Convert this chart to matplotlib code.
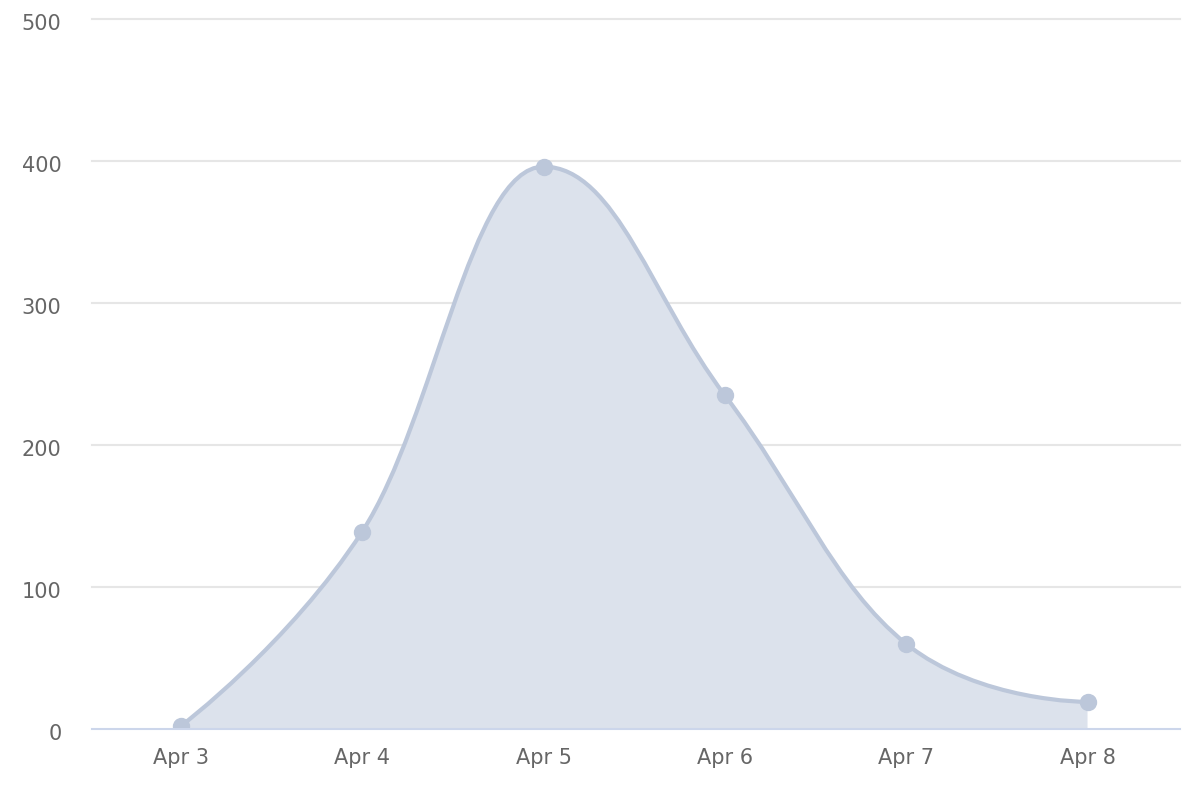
import matplotlib
matplotlib.use("Agg")
import matplotlib.pyplot as plt
import matplotlib.transforms as mtransforms
from matplotlib.path import Path
from matplotlib.patches import PathPatch
import numpy as np

categories = ["Apr 3", "Apr 4", "Apr 5", "Apr 6", "Apr 7", "Apr 8"]
values = [2, 139, 396, 235, 60, 19]
y_ticks = [0, 100, 200, 300, 400, 500]

LINE = "#bcc7da"
FILL = "#dce2ec"
TEXT = "#666666"
GRID = "#e6e6e6"
AXIS = "#ccd6eb"


def spline_path(xs, ys, smoothing=1.5):
    n = len(xs)
    left = [None] * n
    right = [None] * n
    d = smoothing + 1
    for i in range(1, n - 1):
        px, py = xs[i], ys[i]
        lx, ly = xs[i - 1], ys[i - 1]
        nx, ny = xs[i + 1], ys[i + 1]
        lcx = (smoothing * px + lx) / d
        lcy = (smoothing * py + ly) / d
        rcx = (smoothing * px + nx) / d
        rcy = (smoothing * py + ny) / d
        if rcx != lcx:
            corr = ((rcy - lcy) * (rcx - px)) / (rcx - lcx) + py - rcy
            lcy += corr
            rcy += corr
        if lcy > max(ly, py):
            lcy = max(ly, py)
            rcy = 2 * py - lcy
        elif lcy < min(ly, py):
            lcy = min(ly, py)
            rcy = 2 * py - lcy
        if rcy > max(ny, py):
            rcy = max(ny, py)
            lcy = 2 * py - rcy
        elif rcy < min(ny, py):
            rcy = min(ny, py)
            lcy = 2 * py - rcy
        left[i] = (lcx, lcy)
        right[i] = (rcx, rcy)
    verts = [(xs[0], ys[0])]
    codes = [Path.MOVETO]
    for i in range(1, n):
        c1 = right[i - 1] if right[i - 1] is not None else (xs[i - 1], ys[i - 1])
        c2 = left[i] if left[i] is not None else (xs[i], ys[i])
        verts += [c1, c2, (xs[i], ys[i])]
        codes += [Path.CURVE4] * 3
    return verts, codes


fig = plt.figure(figsize=(12, 8), dpi=100)
ax = fig.add_axes([92 / 1200, 71 / 800, 1088 / 1200, 710 / 800])

x = np.arange(len(categories), dtype=float)
y = np.array(values, dtype=float)

verts, codes = spline_path(list(x), list(y))

# filled area
fverts = verts + [(x[-1], 0), (x[0], 0), verts[0]]
fcodes = codes + [Path.LINETO, Path.LINETO, Path.CLOSEPOLY]
ax.add_patch(PathPatch(Path(fverts, fcodes), facecolor=FILL, edgecolor="none", zorder=2))
# line
ax.add_patch(PathPatch(Path(verts, codes), facecolor="none", edgecolor=LINE, lw=3, zorder=3,
                       capstyle="round", joinstyle="round"))
ax.plot(x, y, linestyle="none", marker="o", markersize=11.5, color=LINE, zorder=4)

ax.set_xlim(-0.49, 5.51)
ax.set_ylim(0, 500)
ax.set_xticks(x)
ax.set_xticklabels(categories)
ax.set_yticks(y_ticks)
ax.tick_params(axis="both", length=0, colors=TEXT, labelsize=15)
ax.tick_params(axis="y", pad=22)
ax.tick_params(axis="x", pad=14)
offset = mtransforms.ScaledTranslation(0, -3 / 100, fig.dpi_scale_trans)
for t in ax.get_yticklabels():
    t.set_horizontalalignment("right")
    t.set_transform(t.get_transform() + offset)

for v in y_ticks[1:]:
    ax.axhline(v, color=GRID, lw=1.5, zorder=1, clip_on=False)
ax.axhline(0, color=AXIS, lw=1.5, zorder=5, clip_on=False)

for s in ax.spines.values():
    s.set_visible(False)

fig.savefig("out.png", dpi=100, facecolor="white")
